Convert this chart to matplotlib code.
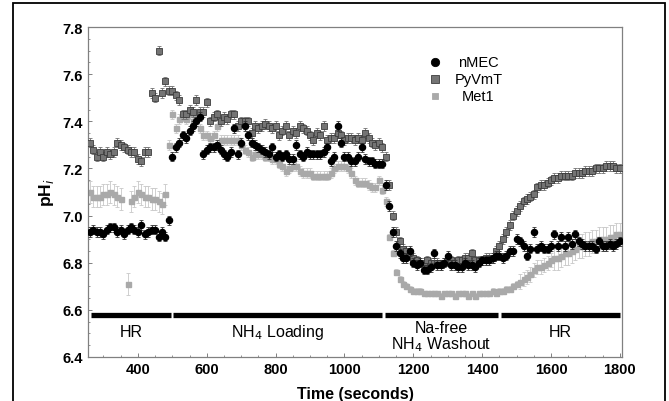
import numpy as np
import matplotlib
matplotlib.use("Agg")
import matplotlib.pyplot as plt
from matplotlib.patches import Rectangle
from matplotlib.ticker import MultipleLocator

plt.rcParams['font.family'] = ['Liberation Sans', 'DejaVu Sans']

# sampling times (s), one reading every 10 s
time_s = np.arange(260, 1801, 10)

nmec = [
    6.93, 6.94, 6.93, 6.93, 6.92, 6.94, 6.95, 6.95, 6.93, 6.94,
    6.92, 6.94, 6.95, 6.94, 6.93, 6.96, 6.92, 6.93, 6.94, 6.94,
    6.91, 6.93, 6.91, 6.98, 7.25, 7.29, 7.31, 7.34, 7.33, 7.36,
    7.38, 7.40, 7.42, 7.26, 7.28, 7.29, 7.29, 7.30, 7.28, 7.26,
    7.25, 7.27, 7.37, 7.26, 7.31, 7.38, 7.34, 7.31, 7.30, 7.29,
    7.28, 7.27, 7.26, 7.29, 7.25, 7.26, 7.25, 7.26, 7.24, 7.24,
    7.30, 7.26, 7.25, 7.27, 7.26, 7.26, 7.26, 7.26, 7.27, 7.29,
    7.23, 7.25, 7.38, 7.31, 7.25, 7.25, 7.23, 7.23, 7.25, 7.29,
    7.24, 7.23, 7.23, 7.22, 7.22, 7.22, 7.13, 7.04, 6.93, 6.87,
    6.84, 6.82, 6.82, 6.85, 6.80, 6.79, 6.80, 6.77, 6.77, 6.78,
    6.84, 6.79, 6.79, 6.80, 6.83, 6.79, 6.79, 6.78, 6.78, 6.80,
    6.79, 6.79, 6.78, 6.80, 6.81, 6.81, 6.81, 6.82, 6.83, 6.83,
    6.82, 6.83, 6.85, 6.85, 6.90, 6.89, 6.87, 6.83, 6.86, 6.93,
    6.86, 6.87, 6.86, 6.86, 6.87, 6.92, 6.87, 6.91, 6.87, 6.91,
    6.88, 6.92, 6.89, 6.88, 6.87, 6.87, 6.87, 6.86, 6.89, 6.87,
    6.87, 6.88, 6.87, 6.88, 6.89,
]

pyvmt = [
    7.31, 7.28, 7.25, 7.27, 7.25, 7.27, 7.26, 7.27, 7.31, 7.30,
    7.29, 7.28, 7.27, 7.27, 7.24, 7.23, 7.27, 7.27, 7.52, 7.50,
    7.70, 7.52, 7.57, 7.53, 7.53, 7.51, 7.49, 7.43, 7.43, 7.45,
    7.44, 7.49, 7.44, 7.44, 7.48, 7.40, 7.42, 7.43, 7.40, 7.42,
    7.41, 7.43, 7.43, 7.38, 7.40, 7.40, 7.40, 7.35, 7.38, 7.37,
    7.38, 7.39, 7.38, 7.37, 7.38, 7.34, 7.36, 7.38, 7.34, 7.36,
    7.35, 7.38, 7.37, 7.36, 7.34, 7.32, 7.35, 7.34, 7.38, 7.32,
    7.33, 7.33, 7.35, 7.34, 7.32, 7.33, 7.33, 7.32, 7.33, 7.32,
    7.35, 7.33, 7.31, 7.30, 7.31, 7.29, 7.25, 7.13, 7.00, 6.93,
    6.89, 6.86, 6.85, 6.83, 6.82, 6.81, 6.80, 6.80, 6.81, 6.80,
    6.80, 6.80, 6.79, 6.80, 6.81, 6.81, 6.80, 6.81, 6.81, 6.82,
    6.82, 6.84, 6.81, 6.81, 6.81, 6.82, 6.82, 6.82, 6.85, 6.87,
    6.90, 6.93, 6.96, 7.00, 7.02, 7.04, 7.06, 7.07, 7.08, 7.09,
    7.12, 7.13, 7.13, 7.14, 7.15, 7.16, 7.16, 7.17, 7.17, 7.17,
    7.17, 7.18, 7.18, 7.18, 7.19, 7.19, 7.19, 7.20, 7.20, 7.20,
    7.21, 7.21, 7.21, 7.20, 7.20,
]

met1 = [
    7.10, 7.08, 7.08, 7.08, 7.09, 7.09, 7.10, 7.09, 7.08, 7.07,
    np.nan, 6.71, 7.06, 7.08, 7.10, 7.09, 7.08, 7.08, 7.07, 7.07,
    7.06, 7.05, 7.09, 7.30, 7.43, 7.37, 7.41, 7.42, 7.41, 7.43,
    7.40, 7.42, 7.37, 7.34, 7.34, 7.33, 7.34, 7.38, 7.32, 7.32,
    7.32, 7.32, 7.32, 7.32, 7.30, 7.28, 7.27, 7.25, 7.26, 7.26,
    7.26, 7.25, 7.25, 7.24, 7.24, 7.22, 7.21, 7.19, 7.20, 7.21,
    7.21, 7.19, 7.18, 7.18, 7.18, 7.17, 7.17, 7.17, 7.17, 7.17,
    7.18, 7.20, 7.21, 7.21, 7.21, 7.20, 7.18, 7.15, 7.14, 7.14,
    7.14, 7.13, 7.12, 7.12, 7.15, 7.11, 7.06, 6.91, 6.84, 6.76,
    6.73, 6.71, 6.70, 6.69, 6.68, 6.68, 6.68, 6.67, 6.67, 6.67,
    6.67, 6.67, 6.66, 6.67, 6.67, 6.67, 6.66, 6.67, 6.67, 6.67,
    6.66, 6.67, 6.66, 6.67, 6.67, 6.67, 6.67, 6.68, 6.67, 6.68,
    6.68, 6.69, 6.69, 6.70, 6.71, 6.72, 6.73, 6.74, 6.75, 6.77,
    6.78, 6.78, 6.79, 6.80, 6.81, 6.82, 6.82, 6.83, 6.84, 6.84,
    6.85, 6.86, 6.87, 6.87, 6.88, 6.88, 6.89, 6.89, 6.90, 6.90,
    6.90, 6.91, 6.91, 6.92, 6.92,
]

# error bar half-widths (pH units)
nmec_err = 0.02
pyvmt_err = 0.02
met1_err = np.repeat([0.045, 0.02, 0.012, 0.03, 0.05], [23, 64, 38, 10, 20])

# solution periods along the bottom bar
periods = ["HR", "NH$_4$ Loading", "Na-free\nNH$_4$ Washout", "HR"]
period_start = [264, 502, 1117, 1454]
period_end = [496, 1109, 1445, 1800]

fig = plt.figure(figsize=(6.69, 4.02), dpi=100)
ax = fig.add_axes([0.1315, 0.1095, 0.7982, 0.8208])

ax.errorbar(time_s, met1, yerr=met1_err, fmt='s', ms=3.6, mfc='#a9a9a9', mec='#a9a9a9',
            ecolor='#c8c8c8', elinewidth=0.6, capsize=1.3, capthick=0.6, zorder=2)
ax.errorbar(time_s, pyvmt, yerr=pyvmt_err, fmt='s', ms=4.4, mfc='#747474', mec='#3c3c3c',
            mew=0.6, ecolor='#707070', elinewidth=0.6, capsize=1.3, capthick=0.6, zorder=3)
ax.errorbar(time_s, nmec, yerr=nmec_err, fmt='o', ms=4.4, mfc='black', mec='black',
            ecolor='#333333', elinewidth=0.6, capsize=1.3, capthick=0.6, zorder=4)

for lab, a, b in zip(periods, period_start, period_end):
    ax.plot([a, b], [6.578, 6.578], color='black', lw=3.8, solid_capstyle='butt', zorder=5)
    y = 6.51 if '\n' not in lab else 6.485
    ax.text((a + b) / 2, y, lab, ha='center', va='center', fontsize=11.5, linespacing=0.95)

# legend drawn by hand so the labels sit centred
leg = [("nMEC", 'o', 'black', 'black', 6.0), ("PyVmT", 's', '#747474', '#3c3c3c', 5.4),
       ("Met1", 's', '#a9a9a9', '#a9a9a9', 4.8)]
for i, (name, m, fc, ec, s) in enumerate(leg):
    yy = 0.895 - i * 0.052
    ax.plot([0.649], [yy], marker=m, ms=s, mfc=fc, mec=ec, mew=0.6, ls='none',
            transform=ax.transAxes, clip_on=False)
    ax.text(0.731, yy, name, ha='center', va='center', fontsize=10.5, transform=ax.transAxes)

ax.set_xlim(255, 1806)
ax.set_ylim(6.4, 7.8)
ax.xaxis.set_minor_locator(MultipleLocator(50))
ax.yaxis.set_minor_locator(MultipleLocator(0.05))
ax.tick_params(which='both', direction='in', color='#808080', labelsize=10.5)
ax.tick_params(which='major', length=3, width=0.7)
ax.tick_params(which='minor', length=1.5, width=0.6)
ax.set_xticks([400, 600, 800, 1000, 1200, 1400, 1600, 1800])
ax.set_yticks([6.4, 6.6, 6.8, 7.0, 7.2, 7.4, 7.6, 7.8])
ax.set_yticklabels(['6.4', '6.6', '6.8', '7.0', '7.2', '7.4', '7.6', '7.8'], fontweight='bold')
ax.set_xticklabels(['400', '600', '800', '1000', '1200', '1400', '1600', '1800'], fontweight='bold')
for sp in ax.spines.values():
    sp.set_color('#808080')
    sp.set_linewidth(0.9)

ax.set_xlabel("Time (seconds)", fontsize=11.5, fontweight='bold', labelpad=7)
ax.set_ylabel("pH$_\\mathit{i}$", fontsize=12.5, fontweight='bold', labelpad=5)

fig.patches.append(Rectangle((13 / 669, -0.1), 652 / 669, 1.09, transform=fig.transFigure,
                             fill=False, ec='black', lw=1.3))

fig.savefig("out.png", dpi=100)
